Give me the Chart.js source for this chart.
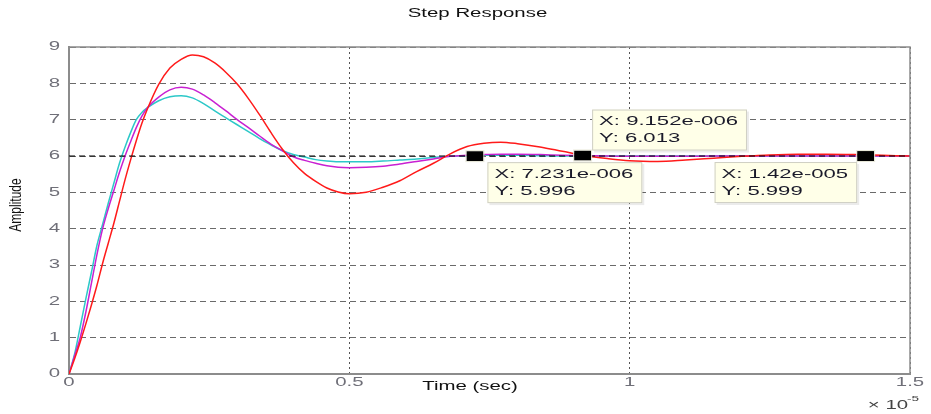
<!DOCTYPE html>
<html>
<head>
<meta charset="utf-8">
<script src="https://cdn.jsdelivr.net/npm/chart.js@4"></script>
<style>
    body { margin: 0; background: #fff; }
    #chart { display: block; }
</style>
</head>
<body>
<canvas id="chart" width="931" height="414"></canvas>
<script>
// time axis in units of 1e-5 s
const timeE5 = [0, 0.01, 0.02, 0.03, 0.04, 0.05, 0.06, 0.07, 0.08, 0.09, 0.10, 0.11, 0.12, 0.13, 0.14,
    0.16, 0.18, 0.20, 0.22, 0.24, 0.26, 0.28, 0.30, 0.32, 0.34, 0.36, 0.38, 0.40, 0.42, 0.44, 0.46, 0.48,
    0.50, 0.53, 0.56, 0.59, 0.62, 0.65, 0.68, 0.71, 0.74, 0.77, 0.80, 0.84, 0.88, 0.92, 0.96, 1.00,
    1.05, 1.10, 1.15, 1.20, 1.25, 1.30, 1.35, 1.40, 1.45, 1.50];

const redResp = [0, 0.42, 0.88, 1.38, 1.9, 2.45, 3.05, 3.6, 4.15, 4.75, 5.35, 5.9, 6.42, 6.9, 7.3,
    7.97, 8.42, 8.66, 8.78, 8.73, 8.56, 8.3, 7.98, 7.58, 7.13, 6.65, 6.2, 5.82, 5.52, 5.3, 5.12, 5.01,
    4.96, 5.0, 5.14, 5.32, 5.57, 5.8, 6.06, 6.26, 6.35, 6.38, 6.34, 6.25, 6.13, 6.01, 5.93, 5.87,
    5.85, 5.89, 5.94, 5.99, 6.03, 6.05, 6.05, 6.04, 6.02, 6.0];

const magentaResp = [0, 0.5, 1.0, 1.7, 2.5, 3.3, 4.0, 4.55, 5.05, 5.55, 6.0, 6.4, 6.78, 7.1, 7.33,
    7.62, 7.82, 7.89, 7.84, 7.68, 7.47, 7.24, 7.0, 6.78, 6.55, 6.33, 6.15, 5.98, 5.88, 5.8, 5.73, 5.69,
    5.68, 5.69, 5.72, 5.78, 5.85, 5.92, 5.99, 6.02, 6.04, 6.05, 6.05, 6.04, 6.02, 6.01, 6.0, 5.99,
    5.99, 5.99, 6.0, 6.0, 6.0, 6.0, 6.0, 6.0, 6.0, 6.0];

const cyanResp = [0, 0.55, 1.3, 2.07, 2.8, 3.55, 4.12, 4.7, 5.25, 5.8, 6.25, 6.65, 7.0, 7.2, 7.33,
    7.52, 7.63, 7.66, 7.6, 7.44, 7.24, 7.05, 6.86, 6.67, 6.48, 6.31, 6.15, 6.04, 5.97, 5.9, 5.86, 5.84,
    5.84, 5.84, 5.86, 5.89, 5.92, 5.96, 5.99, 6.01, 6.02, 6.02, 6.02, 6.01, 6.0, 6.0, 6.0, 6.0,
    6.0, 6.0, 6.0, 6.0, 6.0, 6.0, 6.0, 6.0, 6.0, 6.0];

// steady-state reference line
const refTime = [0, 1.5];
const refLevel = [6, 6];

const xTickLabels = ['0', '0.5', '1', '1.5'];
const yTickLabels = ['0', '1', '2', '3', '4', '5', '6', '7', '8', '9'];

// data tips
const tipX = [7.231e-6, 9.152e-6, 1.42e-5];
const tipY = [5.996, 6.013, 5.999];
const tipXText = ['7.231e-006', '9.152e-006', '1.42e-005'];
const tipYText = ['5.996', '6.013', '5.999'];

const STRETCH = 1.7;
const FONT = '"Liberation Sans", Arial, sans-serif';
const tipOffsets = [{dx: 13, dy: 6, side: 'right'}, {dx: 10, dy: -46, side: 'right'}, {dx: -8, dy: 6, side: 'left'}];

function toPoints(xs, ys) {
    return xs.map((x, i) => ({x: x, y: ys[i]}));
}

function stretchedText(ctx, text, x, y, size, color, align) {
    ctx.save();
    ctx.translate(x, y);
    ctx.scale(STRETCH, 1);
    ctx.font = size + 'px ' + FONT;
    ctx.fillStyle = color;
    ctx.textAlign = align;
    ctx.textBaseline = 'middle';
    ctx.fillText(text, 0, 0);
    ctx.restore();
}

const decorPlugin = {
    id: 'decor',
    afterDraw(chart) {
        const ctx = chart.ctx;
        const area = chart.chartArea;
        const xs = chart.scales.x;
        const ys = chart.scales.y;

        // top and right box edges
        ctx.save();
        ctx.strokeStyle = '#8c8c8c';
        ctx.lineWidth = 1.5;
        ctx.beginPath();
        ctx.moveTo(area.left, area.top);
        ctx.lineTo(area.right, area.top);
        ctx.lineTo(area.right, area.bottom);
        ctx.stroke();
        ctx.restore();

        // tick labels
        xs.ticks.forEach((t, i) => {
            stretchedText(ctx, xTickLabels[i], xs.getPixelForValue(t.value), area.bottom + 9, 12, '#6f6f78', 'center');
        });
        ys.ticks.forEach((t, i) => {
            stretchedText(ctx, yTickLabels[i], area.left - 9, ys.getPixelForValue(t.value), 12, '#6f6f78', 'right');
        });

        // title and axis labels
        stretchedText(ctx, 'Step Response', (area.left + area.right) / 2 - 12, 14, 12, '#111', 'center');
        stretchedText(ctx, 'Time (sec)', 470, area.bottom + 13, 12, '#111', 'center');
        stretchedText(ctx, '\u00d7 10', area.right - 22, area.bottom + 32, 12, '#444', 'center');
        stretchedText(ctx, '-5', area.right + 3, area.bottom + 25, 8, '#444', 'center');

        ctx.save();
        ctx.translate(17, 205);
        ctx.scale(1.35, 1);
        ctx.rotate(-Math.PI / 2);
        ctx.font = '12px ' + FONT;
        ctx.fillStyle = '#111';
        ctx.textAlign = 'center';
        ctx.textBaseline = 'middle';
        ctx.fillText('Amplitude', 0, 0);
        ctx.restore();

        // data tips
        tipX.forEach((tx, i) => {
            const px = xs.getPixelForValue(tx / 1e-5);
            const py = ys.getPixelForValue(tipY[i]);
            ctx.save();
            ctx.fillStyle = '#000';
            ctx.fillRect(px - 8, py - 5, 17, 10);
            ctx.strokeStyle = '#e8e8d8';
            ctx.lineWidth = 1;
            ctx.strokeRect(px - 8.5, py - 5.5, 18, 11);

            const l1 = 'X: ' + tipXText[i];
            const l2 = 'Y: ' + tipYText[i];
            ctx.font = '13px ' + FONT;
            const w = Math.max(ctx.measureText(l1).width, ctx.measureText(l2).width) * STRETCH + 16;
            const h = 41;
            const off = tipOffsets[i];
            const bx = off.side === 'right' ? px + off.dx : px + off.dx - w;
            const by = py + off.dy;
            ctx.fillStyle = 'rgba(0,0,0,0.08)';
            ctx.fillRect(bx + 2, by + 2, w, h);
            ctx.fillStyle = '#ffffe8';
            ctx.fillRect(bx, by, w, h);
            ctx.strokeStyle = '#cfcfc4';
            ctx.strokeRect(bx + 0.5, by + 0.5, w - 1, h - 1);
            ctx.restore();
            stretchedText(ctx, l1, bx + 7, by + 12, 13, '#1a1a2a', 'left');
            stretchedText(ctx, l2, bx + 7, by + 29, 13, '#1a1a2a', 'left');
        });
    }
};

const ctx = document.getElementById('chart');
new Chart(ctx, {
    type: 'line',
    data: {
        datasets: [
            {
                data: toPoints(refTime, refLevel),
                borderColor: '#000',
                borderWidth: 1,
                borderDash: [6, 4],
                pointRadius: 0
            },
            {
                data: toPoints(timeE5, redResp),
                borderColor: '#ff1a1a',
                borderWidth: 1.5,
                pointRadius: 0,
                cubicInterpolationMode: 'monotone'
            },
            {
                data: toPoints(timeE5, magentaResp),
                borderColor: '#c820d2',
                borderWidth: 1.5,
                pointRadius: 0,
                cubicInterpolationMode: 'monotone'
            },
            {
                data: toPoints(timeE5, cyanResp),
                borderColor: '#2cc8c8',
                borderWidth: 1.5,
                pointRadius: 0,
                cubicInterpolationMode: 'monotone'
            }
        ]
    },
    options: {
        responsive: false,
        animation: false,
        layout: { padding: { top: 47, right: 21, left: 0, bottom: 0 } },
        plugins: {
            legend: { display: false },
            tooltip: { enabled: false }
        },
        scales: {
            x: {
                type: 'linear',
                min: 0,
                max: 1.5,
                ticks: { display: false, stepSize: 0.5 },
                grid: { color: '#555', lineWidth: 1, drawTicks: false },
                border: { display: true, color: '#8c8c8c', width: 2, dash: [2, 3] },
                afterFit: function(scale) { scale.height = 40; }
            },
            y: {
                min: 0,
                max: 9,
                ticks: { display: false, stepSize: 1 },
                grid: { color: '#6a6a6a', lineWidth: 1, drawTicks: false },
                border: { display: true, color: '#8c8c8c', width: 2, dash: [6, 4] },
                afterFit: function(scale) { scale.width = 69; }
            }
        }
    },
    plugins: [decorPlugin]
});
</script>
</body>
</html>
